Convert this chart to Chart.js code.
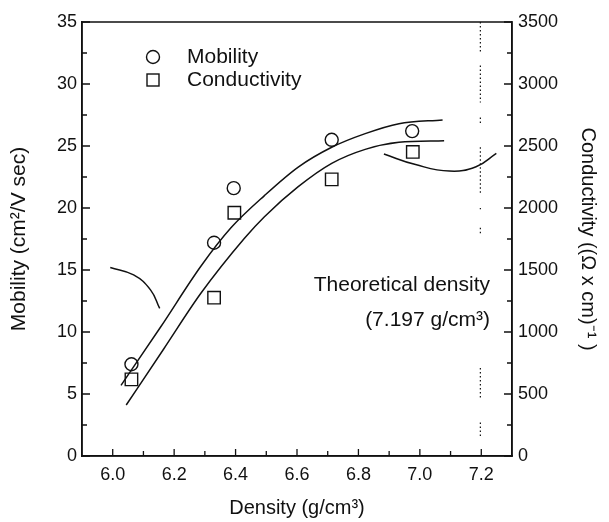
<!DOCTYPE html>
<html lang="en">
<head>
    <meta charset="UTF-8">
    <title>Mobility and Conductivity vs Density</title>
    <script src="https://cdn.jsdelivr.net/npm/chart.js"></script>
    <style>
        body {
            margin: 0;
            background-color: #ffffff;
        }
        #densityChart {
            display: block;
        }
    </style>
</head>
<body>
    <canvas id="densityChart" width="609" height="522"></canvas>

    <script>
        // Axis ticks
        const densityTicks = [6.0, 6.2, 6.4, 6.6, 6.8, 7.0, 7.2];
        const mobilityTicks = [0, 5, 10, 15, 20, 25, 30, 35];
        const conductivityTicks = [0, 500, 1000, 1500, 2000, 2500, 3000, 3500];

        // Measured points
        const mobDensity = [6.061, 6.330, 6.394, 6.713, 6.975];
        const mobility = [7.4, 17.2, 21.6, 25.5, 26.2];
        const condDensity = [6.061, 6.330, 6.396, 6.713, 6.977];
        const conductivity = [618, 1277, 1962, 2231, 2452];

        // Fitted curves
        const mobFitX = [6.027, 6.156, 6.287, 6.385, 6.494, 6.604, 6.713, 6.822, 6.932, 7.074];
        const mobFitY = [5.7, 10.4, 15.3, 18.4, 21.0, 23.3, 24.9, 26.0, 26.8, 27.1];
        const condFitX = [6.044, 6.166, 6.287, 6.429, 6.494, 6.604, 6.713, 6.822, 6.932, 7.079];
        const condFitY = [411, 863, 1312, 1756, 1930, 2172, 2360, 2473, 2530, 2543];

        // Stray curve pieces
        const leftArcX = [5.992, 6.068, 6.123, 6.153];
        const leftArcY = [15.2, 14.6, 13.4, 11.9];
        const rightArcX = [6.883, 6.986, 7.096, 7.183, 7.249];
        const rightArcY = [2435, 2350, 2298, 2333, 2441];

        // Theoretical density marker (broken dotted line)
        const theoDensity = 7.197;
        const theoLineY = [35, 32.6, null, 31.5, 28.5, null, 27.3, 26.7, null, 24.9, 21.2, null,
                           20.0, 19.9, null, 18.4, 17.8, null, 7.1, 4.7, null, 2.7, 1.5];

        const FAMILY = "'Liberation Sans', Arial, sans-serif";
        const TICK_FONT = { family: FAMILY, size: 18 };
        const INK = '#111111';

        function pairs(xs, ys) {
            return xs.map((x, i) => ({ x: x, y: ys[i] }));
        }

        function fixedTicks(values) {
            return function (scale) {
                scale.ticks = values.map(v => ({ value: v }));
            };
        }

        // Inward tick marks, plot frame, legend and annotation text
        const framePlugin = {
            id: 'framePlugin',
            afterDraw(chart) {
                const ctx = chart.ctx;
                const { left, right, top, bottom } = chart.chartArea;
                const sx = chart.scales.x, sy = chart.scales.y, sy2 = chart.scales.y2;
                ctx.save();
                ctx.strokeStyle = INK;
                ctx.lineWidth = 1.5;
                ctx.strokeRect(left, top, right - left, bottom - top);

                ctx.lineWidth = 1.3;
                ctx.beginPath();
                for (let i = 0; i < mobilityTicks.length * 2 - 1; i++) {
                    const v = i * 2.5;
                    const len = i % 2 === 0 ? 8 : 5;
                    const py = sy.getPixelForValue(v);
                    ctx.moveTo(left, py); ctx.lineTo(left + len, py);
                }
                for (let i = 0; i < conductivityTicks.length * 2 - 1; i++) {
                    const v = i * 250;
                    const len = i % 2 === 0 ? 8 : 5;
                    const py = sy2.getPixelForValue(v);
                    ctx.moveTo(right, py); ctx.lineTo(right - len, py);
                }
                for (let i = 1; i < densityTicks.length * 2; i++) {
                    const v = densityTicks[0] - 0.1 + i * 0.1;
                    const len = i % 2 === 1 ? 7 : 5;
                    const px = sx.getPixelForValue(v);
                    if (px >= right - 1) continue;
                    ctx.moveTo(px, bottom); ctx.lineTo(px, bottom - len);
                }
                ctx.stroke();

                // legend
                const mx = left + 71;
                ctx.lineWidth = 1.4;
                ctx.beginPath();
                ctx.arc(mx, top + 35, 6.5, 0, Math.PI * 2);
                ctx.stroke();
                ctx.strokeRect(mx - 6, top + 52, 12, 12);
                ctx.fillStyle = INK;
                ctx.font = '21px ' + FAMILY;
                ctx.textBaseline = 'middle';
                ctx.textAlign = 'left';
                ctx.fillText('Mobility', left + 105, top + 35);
                ctx.fillText('Conductivity', left + 105, top + 58);

                // annotation
                ctx.textAlign = 'right';
                ctx.fillText('Theoretical density', right - 22, top + 263);
                ctx.fillText('(7.197 g/cm\u00B3)', right - 22, top + 298);
                ctx.restore();
            }
        };

        const lineStyle = {
            showLine: true,
            pointRadius: 0,
            borderColor: INK,
            borderWidth: 1.5,
            cubicInterpolationMode: 'monotone',
            fill: false
        };

        const arcStyle = {
            showLine: true,
            pointRadius: 0,
            borderColor: INK,
            borderWidth: 1.5,
            tension: 0.45,
            fill: false
        };

        const ctx = document.getElementById('densityChart').getContext('2d');
        const densityChart = new Chart(ctx, {
            type: 'scatter',
            data: {
                datasets: [
                    {
                        label: 'Mobility',
                        data: pairs(mobDensity, mobility),
                        yAxisID: 'y',
                        pointStyle: 'circle',
                        pointRadius: 6.5,
                        pointBorderWidth: 1.4,
                        borderColor: INK,
                        backgroundColor: 'transparent'
                    },
                    {
                        label: 'Conductivity',
                        data: pairs(condDensity, conductivity),
                        yAxisID: 'y2',
                        pointStyle: 'rect',
                        pointRadius: 8.8,
                        pointBorderWidth: 1.4,
                        borderColor: INK,
                        backgroundColor: 'transparent'
                    },
                    Object.assign({ data: pairs(mobFitX, mobFitY), yAxisID: 'y' }, lineStyle),
                    Object.assign({ data: pairs(condFitX, condFitY), yAxisID: 'y2' }, lineStyle),
                    Object.assign({ data: pairs(leftArcX, leftArcY), yAxisID: 'y' }, arcStyle),
                    Object.assign({ data: pairs(rightArcX, rightArcY), yAxisID: 'y2' }, arcStyle),
                    {
                        data: theoLineY.map(v => ({ x: theoDensity, y: v })),
                        yAxisID: 'y',
                        showLine: true,
                        spanGaps: false,
                        pointRadius: 0,
                        borderColor: INK,
                        borderWidth: 1.2,
                        borderDash: [1.5, 2.5]
                    }
                ]
            },
            options: {
                responsive: false,
                animation: false,
                layout: { padding: { top: 22, left: 0, right: 0, bottom: 0 } },
                plugins: {
                    legend: { display: false },
                    tooltip: { enabled: false }
                },
                scales: {
                    x: {
                        type: 'linear',
                        min: 5.9,
                        max: 7.3,
                        afterBuildTicks: fixedTicks(densityTicks),
                        afterFit: s => { s.height = 66; },
                        grid: { display: false, drawTicks: false },
                        border: { display: true, color: INK, width: 1.5 },
                        ticks: {
                            color: INK, font: TICK_FONT, padding: 8, maxRotation: 0,
                            callback: v => Number(v).toFixed(1)
                        },
                        title: {
                            display: true, text: 'Density (g/cm\u00B3)', color: INK,
                            font: { family: FAMILY, size: 20 },
                            padding: { top: 0, bottom: 2 }
                        }
                    },
                    y: {
                        type: 'linear',
                        position: 'left',
                        min: 0,
                        max: 35,
                        afterBuildTicks: fixedTicks(mobilityTicks),
                        afterFit: s => { s.width = 82; },
                        grid: { display: false, drawTicks: false },
                        border: { display: true, color: INK, width: 1.5 },
                        ticks: { color: INK, font: TICK_FONT, padding: 5, callback: v => String(v) },
                        title: {
                            display: true, text: 'Mobility (cm\u00B2/V sec)', color: INK,
                            font: { family: FAMILY, size: 21 },
                            padding: { top: 7, bottom: 0 }
                        }
                    },
                    y2: {
                        type: 'linear',
                        position: 'right',
                        min: 0,
                        max: 3500,
                        afterBuildTicks: fixedTicks(conductivityTicks),
                        afterFit: s => { s.width = 97; },
                        grid: { display: false, drawTicks: false },
                        border: { display: true, color: INK, width: 1.5 },
                        ticks: { color: INK, font: TICK_FONT, padding: 6, callback: v => String(v) },
                        title: {
                            display: true, text: 'Conductivity ((\u03A9 x cm)\u207B\u00B9 )', color: INK,
                            font: { family: FAMILY, size: 20 },
                            padding: { top: 9, bottom: 0 }
                        }
                    }
                }
            },
            plugins: [framePlugin]
        });
    </script>
</body>
</html>
